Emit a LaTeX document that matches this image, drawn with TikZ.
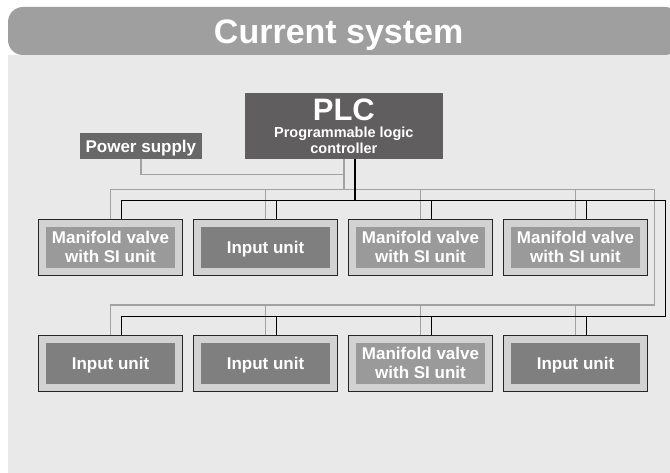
\documentclass[tikz,border=0pt]{standalone}
\usepackage{fontspec}
\setmainfont{Liberation Sans}
\usetikzlibrary{positioning}
\definecolor{headgray}{HTML}{9E9F9E}
\definecolor{panelgray}{HTML}{E8E9E8}
\definecolor{plcgray}{HTML}{615E5F}
\definecolor{psgray}{HTML}{686868}
\definecolor{framegray}{HTML}{D2D2D2}
\definecolor{valvegray}{HTML}{9A9A9A}
\definecolor{inputgray}{HTML}{7F7F7F}
\definecolor{wiregray}{HTML}{A2A2A2}
\tikzstyle{unit} = [rectangle, minimum width=144.4pt, minimum height=56pt, inner sep=0pt,
outer sep=0pt, draw=black!85, line width=1.3pt, fill=framegray, text depth=0pt,
text=white, align=center, font=\bfseries\fontsize{17}{19}\selectfont]
\tikzstyle{valve} = [unit, path picture={\fill[valvegray] ([shift={(7.5pt,-7.5pt)}]path picture bounding box.north west)
rectangle ([shift={(-7.5pt,7.5pt)}]path picture bounding box.south east);}]
\tikzstyle{input} = [unit, path picture={\fill[inputgray] ([shift={(7.5pt,-7.5pt)}]path picture bounding box.north west)
rectangle ([shift={(-7.5pt,7.5pt)}]path picture bounding box.south east);}]
\tikzstyle{grayline} = [draw=wiregray, line width=1.4pt]
\tikzstyle{blackline} = [draw=black, line width=1.4pt]

\begin{document}
\begin{tikzpicture}[x=1pt, y=-1pt, node distance=155pt]
\useasboundingbox (0,0) rectangle (670,473);
\fill[white] (0,0) rectangle (670,473);
% panel
\fill[panelgray] (8,55) rectangle (680,472.5);
\fill[headgray, rounded corners=15pt] (8,55) -- (8,7) -- (680,7) -- (680,55) -- cycle;
\node (title) [anchor=base, text=white, font=\bfseries\fontsize{34}{34}\selectfont] at (338.7,43.3) {Current system};

\node (plc)[rectangle, fill=plcgray, minimum width=197.7pt, minimum height=66pt, inner sep=0pt,
text=white, align=center, font=\bfseries\fontsize{14.5}{16}\selectfont] at (343.85,126.3)
{{\fontsize{31}{31}\selectfont PLC}\\[1pt]Programmable logic\\controller};
\node (ps)[rectangle, fill=psgray, minimum width=121.7pt, minimum height=26pt, inner sep=0pt,
text depth=0pt, text=white, font=\bfseries\fontsize{17}{19}\selectfont] at (140.85,146.3) {Power supply};

\node (u1)[valve] at (110.5,247.3) {Manifold valve\\with SI unit};
\node (u2)[input, right of=u1]{Input unit};
\node (u3)[valve, right of=u2]{Manifold valve\\with SI unit};
\node (u4)[valve, right of=u3]{Manifold valve\\with SI unit};
\node (u5)[input, below of=u1, node distance=116pt]{Input unit};
\node (u6)[input, right of=u5]{Input unit};
\node (u7)[valve, right of=u6]{Manifold valve\\with SI unit};
\node (u8)[input, right of=u7]{Input unit};

\coordinate (g1) at (654.3,189.3);
\coordinate (g2) at (654.3,305);
\coordinate (b1) at (665.7,200.7);
\coordinate (b2) at (665.7,316.7);

% gray bus
\draw [grayline](ps.south) |- ([yshift=-15pt]plc.south);
\draw [grayline](plc.south) -- (plc.south |- g1);
\draw [grayline](u1.north) |- (g1) -- (g2) -| (u5.north);
\draw [grayline](u2.north) -- (u2.north |- g1);
\draw [grayline](u3.north) -- (u3.north |- g1);
\draw [grayline](u4.north) -- (u4.north |- g1);
\draw [grayline](u6.north) -- (u6.north |- g2);
\draw [grayline](u7.north) -- (u7.north |- g2);
\draw [grayline](u8.north) -- (u8.north |- g2);

% black bus
\draw [blackline]([xshift=11pt]plc.south) -- ([xshift=11pt]plc.south |- b1);
\draw [blackline]([xshift=11pt]u1.north) |- (b1) -- (b2) -| ([xshift=11pt]u5.north);
\draw [blackline]([xshift=11pt]u2.north) -- ([xshift=11pt]u2.north |- b1);
\draw [blackline]([xshift=11pt]u3.north) -- ([xshift=11pt]u3.north |- b1);
\draw [blackline]([xshift=11pt]u4.north) -- ([xshift=11pt]u4.north |- b1);
\draw [blackline]([xshift=11pt]u6.north) -- ([xshift=11pt]u6.north |- b2);
\draw [blackline]([xshift=11pt]u7.north) -- ([xshift=11pt]u7.north |- b2);
\draw [blackline]([xshift=11pt]u8.north) -- ([xshift=11pt]u8.north |- b2);
\end{tikzpicture}
\end{document}
